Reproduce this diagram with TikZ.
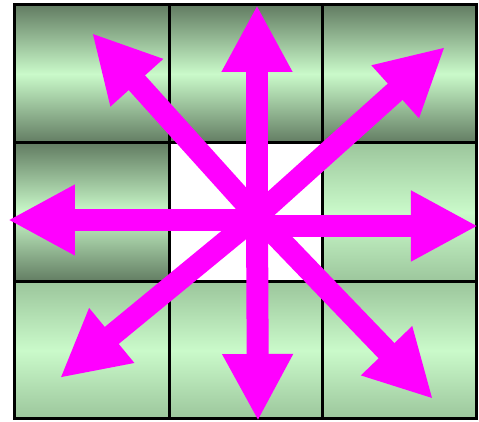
\documentclass[tikz,border=0pt]{standalone}
\usetikzlibrary{arrows.meta}

\definecolor{cellDark}{RGB}{98,124,98}
\definecolor{cellMid}{RGB}{156,198,156}
\definecolor{cellLight}{RGB}{202,250,202}
\definecolor{rayPink}{RGB}{255,0,255}

\begin{document}
\begin{tikzpicture}[
  x=0.5pt, y=0.5pt,
  darkcell/.style={top color=cellDark,bottom color=cellDark,middle color=cellLight},
  palecell/.style={top color=cellMid,bottom color=cellMid,middle color=cellLight},
  gridline/.style={draw=black,line width=1.5pt},
  ray/.style={draw=rayPink,line width=11pt,-{Triangle[length=33.5pt,width=33pt]}}
]
\useasboundingbox (0,0) rectangle (479,422);
% cells
\shade[darkcell] (15,279) rectangle (170,417);
\shade[darkcell] (170,279) rectangle (323,417);
\shade[darkcell] (323,279) rectangle (477,417);
\shade[darkcell] (15,140) rectangle (170,279);
\fill[white] (170,140) rectangle (323,279);
\shade[palecell] (323,140) rectangle (477,279);
\shade[palecell] (15,3) rectangle (170,140);
\shade[palecell] (170,3) rectangle (323,140);
\shade[palecell] (323,3) rectangle (477,140);
% grid
\draw[gridline] (15,3) rectangle (477,417);
\draw[gridline] (170,3) -- (170,417);
\draw[gridline] (323,3) -- (323,417);
\draw[gridline] (15,140) -- (477,140);
\draw[gridline] (15,279) -- (477,279);
% arrows
\coordinate (c) at (257,206);
\coordinate (cl) at (256,202);
\coordinate (cr) at (256,196);
\coordinate (n) at (257,417);
\coordinate (s) at (258,1);
\coordinate (w) at (8,202);
\coordinate (e) at (478,196);
\coordinate (nw) at (92,389);
\coordinate (ne) at (445,375);
\coordinate (sw) at (60,44);
\coordinate (se) at (433,23);
\draw[ray] (c) -- (n);
\draw[ray] (c) -- (s);
\draw[ray] (cl) -- (w);
\draw[ray] (cr) -- (e);
\draw[ray] (c) -- (nw);
\draw[ray] (c) -- (ne);
\draw[ray] (c) -- (sw);
\draw[ray] (c) -- (se);
\end{tikzpicture}
\end{document}
